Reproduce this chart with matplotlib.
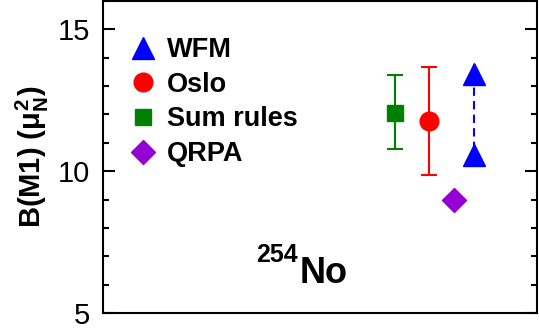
import matplotlib
matplotlib.use("Agg")
import matplotlib.pyplot as plt
from matplotlib.ticker import MultipleLocator

plt.rcParams['font.family'] = ['Liberation Sans', 'DejaVu Sans']
plt.rcParams['mathtext.fontset'] = 'custom'
plt.rcParams['mathtext.rm'] = 'Liberation Sans:bold'
plt.rcParams['mathtext.it'] = 'Liberation Sans:bold'
plt.rcParams['mathtext.bf'] = 'Liberation Sans:bold'

# data (x positions are arbitrary slots on a hidden axis)
sum_x, sum_y, sum_lo, sum_hi = 6.73, 12.07, 10.79, 13.39
oslo_x, oslo_y, oslo_lo, oslo_hi = 7.51, 11.78, 9.88, 13.69
qrpa_x, qrpa_y = 8.08, 9.0
wfm_x = [8.53, 8.53]
wfm_y = [13.44, 10.58]

fig = plt.figure(figsize=(5.39, 3.31), dpi=100)
ax = fig.add_axes([0.191, 0.054, 0.806, 0.943])

# error bars
ax.errorbar([sum_x], [sum_y], yerr=[[sum_y - sum_lo], [sum_hi - sum_y]],
            fmt='none', ecolor='green', elinewidth=1.5, capsize=6, capthick=1.5)
ax.errorbar([oslo_x], [oslo_y], yerr=[[oslo_y - oslo_lo], [oslo_hi - oslo_y]],
            fmt='none', ecolor='red', elinewidth=1.5, capsize=6, capthick=1.5)
ax.plot(wfm_x, wfm_y, color='blue', ls=(0, (4, 2.5)), lw=1.5)

# markers
ax.plot(wfm_x, wfm_y, ls='none', marker='^', ms=16, color='blue', label='WFM')
ax.plot([oslo_x], [oslo_y], ls='none', marker='o', ms=13.5, color='red', label='Oslo')
ax.plot([sum_x], [sum_y], ls='none', marker='s', ms=12, color='green', label='Sum rules')
ax.plot([qrpa_x], [qrpa_y], ls='none', marker='D', ms=12, color='darkviolet', label='QRPA')

ax.set_xlim(0, 10)
ax.set_ylim(5, 16)
ax.yaxis.set_major_locator(MultipleLocator(5))
ax.yaxis.set_minor_locator(MultipleLocator(1))
ax.set_xticks([])
ax.tick_params(axis='y', which='both', direction='in', left=True, right=True, width=1.5)
ax.tick_params(axis='y', which='major', length=8.5, labelsize=21, pad=9)
ax.tick_params(axis='y', which='minor', length=4.5)
for s in ax.spines.values():
    s.set_linewidth(1.5)

ax.set_ylabel(r'B(M1) ($\mu_N^2$)', fontsize=21, fontweight='bold', labelpad=5)

ax.legend(loc='upper left', frameon=False, prop={'weight': 'bold', 'size': 19.5},
          handlelength=1.0, handletextpad=0.39, labelspacing=0.32, borderaxespad=0.3,
          bbox_to_anchor=(0.0175, 0.945))

ax.text(0.449, 0.164, '254', transform=ax.transAxes, fontsize=18,
        fontweight='bold', ha='right', va='baseline')
ax.text(0.4535, 0.0964, 'No', transform=ax.transAxes, fontsize=26,
        fontweight='bold', ha='left', va='baseline')

fig.savefig('out.png', dpi=100)
